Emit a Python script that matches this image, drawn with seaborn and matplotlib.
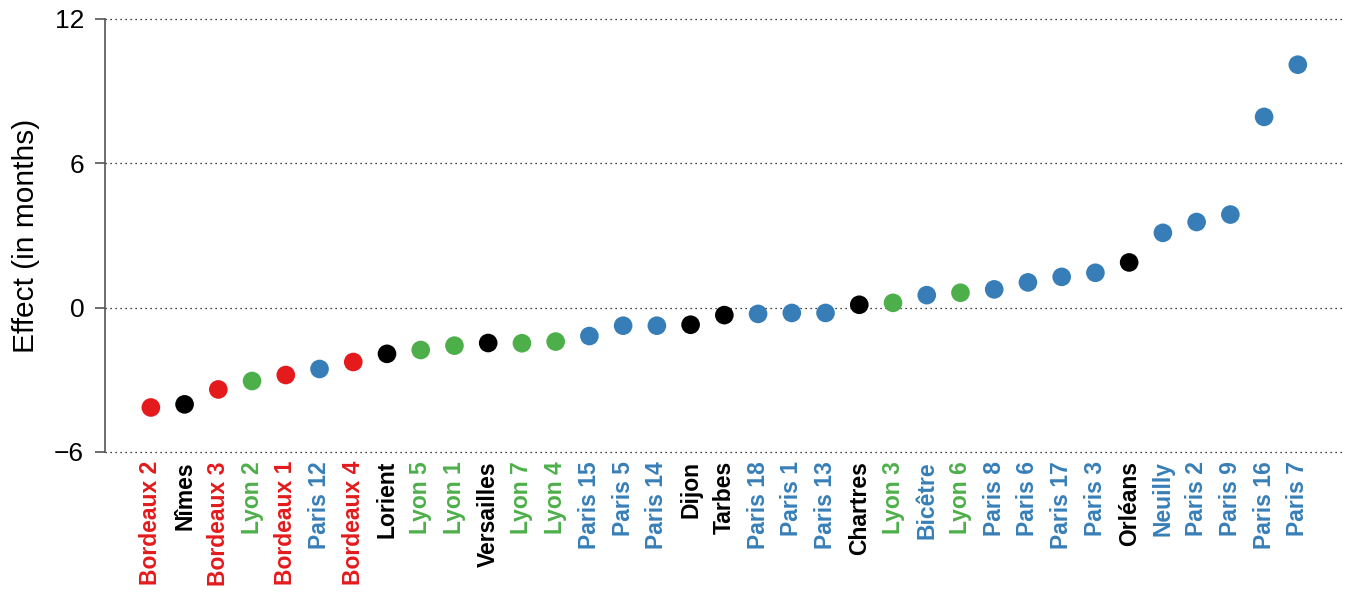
import numpy as np
import pandas as pd
import matplotlib
matplotlib.use("Agg")
import matplotlib.pyplot as plt
import seaborn as sns

# sites ordered by estimated effect
sites = ["Bordeaux 2", "Nîmes", "Bordeaux 3", "Lyon 2", "Bordeaux 1", "Paris 12",
         "Bordeaux 4", "Lorient", "Lyon 5", "Lyon 1", "Versailles", "Lyon 7",
         "Lyon 4", "Paris 15", "Paris 5", "Paris 14", "Dijon", "Tarbes",
         "Paris 18", "Paris 1", "Paris 13", "Chartres", "Lyon 3", "Bicêtre",
         "Lyon 6", "Paris 8", "Paris 6", "Paris 17", "Paris 3", "Orléans",
         "Neuilly", "Paris 2", "Paris 9", "Paris 16", "Paris 7"]

effects = [-4.15, -4.02, -3.40, -3.05, -2.80, -2.55, -2.26, -1.92, -1.76, -1.58,
           -1.47, -1.48, -1.41, -1.18, -0.75, -0.75, -0.71, -0.31, -0.26, -0.22,
           -0.22, 0.12, 0.20, 0.52, 0.62, 0.76, 1.05, 1.28, 1.45, 1.88,
           3.11, 3.56, 3.87, 7.93, 10.10]

regions = ["Bordeaux", "Other", "Bordeaux", "Lyon", "Bordeaux", "Paris",
           "Bordeaux", "Other", "Lyon", "Lyon", "Other", "Lyon",
           "Lyon", "Paris", "Paris", "Paris", "Other", "Other",
           "Paris", "Paris", "Paris", "Other", "Lyon", "Paris",
           "Lyon", "Paris", "Paris", "Paris", "Paris", "Other",
           "Paris", "Paris", "Paris", "Paris", "Paris"]

y_ticks = [-6, 0, 6, 12]

palette = {"Bordeaux": "#E41A1C", "Paris": "#377EB8",
           "Lyon": "#4DAF4A", "Other": "#000000"}

df = pd.DataFrame({"site": sites, "effect": effects, "region": regions})

sns.set_style("white")
plt.rcParams["font.family"] = ["Liberation Sans", "DejaVu Sans"]

fig = plt.figure(figsize=(13.51, 5.97), dpi=100)
ax = fig.add_axes([0.0777, 0.2429, 0.9179, 0.7253])

for yt in y_ticks:
    ax.axhline(yt, color="black", linestyle=(0, (1, 3)), linewidth=0.9,
               zorder=0, clip_on=False)

sns.scatterplot(data=df, x="site", y="effect", hue="region", palette=palette,
                s=180, linewidth=0, legend=False, ax=ax, zorder=3)

ax.set_ylim(-6, 12)
ax.set_xlim(-1.36, 35.4)
ax.set_yticks(y_ticks)
ax.set_yticklabels(["\u22126", "0", "6", "12"])
ax.set_ylabel("Effect (in months)", fontsize=21.5, labelpad=10, color="black")
ax.set_xlabel("")

for side in ["top", "right", "bottom"]:
    ax.spines[side].set_visible(False)
ax.spines["left"].set_color("#555555")
ax.spines["left"].set_linewidth(1.2)

ax.tick_params(axis="y", which="major", left=True, length=7, width=1.2,
               color="#555555", labelcolor="black", labelsize=19, pad=8)
ax.tick_params(axis="x", bottom=False, pad=3)

ax.set_xticks(range(len(sites)))
ax.set_xticklabels(sites, rotation=90, fontsize=16.5, fontweight="bold", va="top")
for lbl, reg in zip(ax.get_xticklabels(), regions):
    lbl.set_color(palette[reg])

fig.savefig("out.png", dpi=100)
plt.close(fig)
